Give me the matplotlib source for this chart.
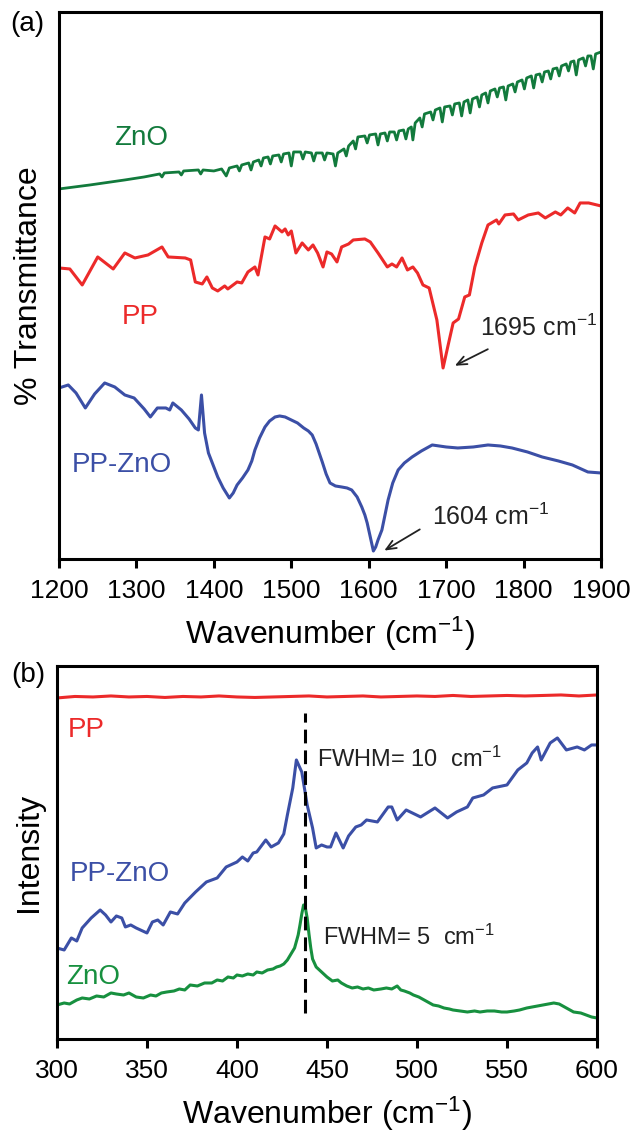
import matplotlib.pyplot as plt

plt.rcParams['font.family'] = ['Liberation Sans', 'DejaVu Sans']
plt.rcParams['mathtext.default'] = 'regular'
plt.rcParams['lines.solid_joinstyle'] = 'round'

# ---- (a) FTIR, wavenumber vs transmittance (arb. units, offset curves)
zno_a_x = [1200,1240,1285,1310,1330,1333,1336,1355,1358,1361,
           1380,1383,1386,1400,1410,1416,1420,1430,1433,1436,
           1445,1448,1451,1458,1461,1464,1470,1473,1476,1484,
           1487,1490,1497,1500,1503,1512,1515,1518,1526,1529,
           1532,1540,1543,1546,1554,1557,1560,1568,1571,1574,
           1580,1583,1586,1595,1598,1601,1609,1612,1615,1621,
           1624,1627,1633,1636,1639,1645,1648,1651,1655,1657,
           1660,1666,1669,1672,1680,1683,1686,1692,1695,1698,
           1705,1708,1711,1717,1720,1723,1728,1731,1734,1740,
           1743,1746,1751,1754,1757,1763,1766,1769,1774,1777,
           1780,1786,1789,1792,1798,1801,1804,1810,1813,1816,
           1821,1824,1827,1832,1835,1838,1843,1846,1849,1855,
           1858,1861,1865,1868,1871,1877,1880,1883,1887,1890,
           1893,1900]
zno_a_y = [370,374,379,382,385,382,386,387,384,388,
           389,385,389,388,390,383,391,393,388,394,
           396,389,397,399,393,401,402,395,403,404,
           397,405,406,393,407,407,400,407,406,398,
           406,406,399,406,405,393,406,410,403,413,
           418,410,422,423,416,424,425,414,425,426,
           418,427,427,419,428,429,420,430,432,419,
           436,441,432,445,447,439,449,451,437,452,
           453,444,455,456,443,457,459,446,460,462,
           452,464,466,456,468,470,462,471,472,459,
           473,475,467,477,479,470,481,483,471,484,
           485,477,487,488,480,490,491,483,493,495,
           488,497,498,484,499,501,493,503,503,490,
           505,507]

pp_a_x = [1200,1214,1230,1250,1270,1285,1298,1315,1333,1341,1363,1370,1376,1385,1391,1398,1405,1414,1418,1430,
          1436,1444,1453,1457,1466,1472,1479,1488,1492,1496,1500,1506,1514,1522,1528,1534,1541,1546,1552,1559,
          1565,1574,1580,1595,1602,1612,1624,1630,1636,1643,1650,1657,1663,1670,1678,1688,1696,1702,1709,1716,
          1724,1730,1737,1746,1754,1765,1768,1776,1787,1793,1806,1819,1828,1841,1848,1857,1866,1873,1884,1900]
pp_a_y = [291,290,274,302,290,306,301,304,312,302,301,299,277,275,282,271,268,273,270,277,
          276,287,292,284,322,320,333,327,330,324,328,306,316,309,314,306,292,307,305,297,
          312,315,319,320,317,306,292,295,292,301,289,292,286,274,271,239,191,212,236,240,
          262,264,292,316,334,339,335,344,345,339,344,346,341,347,344,351,346,356,356,353]

ppzno_a_x = [1200,1212,1222,1234,1246,1259,1272,1285,1297,1310,
             1318,1327,1338,1343,1347,1358,1368,1376,1380,1384,
             1388,1393,1399,1405,1412,1420,1425,1430,1437,1444,
             1449,1453,1459,1466,1472,1479,1485,1492,1500,1508,
             1516,1522,1527,1532,1536,1540,1545,1550,1557,1565,
             1572,1578,1585,1591,1595,1598,1602,1606,1609,1612,
             1617,1621,1625,1631,1638,1646,1656,1668,1682,1700,
             1715,1735,1754,1770,1785,1805,1824,1845,1863,1883,
             1900]
ppzno_a_y = [171,174,166,151,165,176,172,164,161,150,
             142,151,151,149,156,149,140,131,129,164,
             126,106,94,82,71,61,66,74,81,89,
             98,109,121,132,138,142,143,142,139,136,
             131,128,124,115,106,97,85,76,73,72,
             71,69,62,52,44,36,22,8,12,19,
             29,44,59,76,89,96,102,108,114,112,
             111,112,114,113,111,107,102,98,94,87,
             86]

# ---- (b) Raman, wavenumber vs intensity
pp_b_x = [300,310,320,330,340,350,360,370,380,390,400,410,420,430,440,450,
          460,470,480,490,500,510,520,530,540,550,560,570,580,590,600]
pp_b_y = [341,342.5,342,343,342,342.5,341.5,342.5,342,343,342,341.5,342,342.5,343,342,
          342.5,343,342,342.5,343,342.5,343.5,342.5,343,343.5,343,343.5,344,343,344]

ppzno_b_x = [300,304,308,311,314,319,324,327,330,333,336,338,341,344,350,353,356,359,363,367,
             371,377,383,389,394,400,403,406,409,411,416,419,423,426,428,431,433,436,439,442,
             444,447,450,452,455,459,462,466,469,472,478,484,486,489,494,502,510,517,522,528,
             531,537,542,550,556,561,564,567,569,574,578,583,589,593,597,600]
ppzno_b_y = [91,89,101,98,111,121,129,124,117,123,121,112,114,111,106,117,119,114,127,125,
             136,147,157,161,172,177,182,178,186,187,199,192,196,205,224,251,279,267,234,211,
             191,194,192,192,206,191,203,212,214,219,217,232,232,219,229,222,231,221,227,232,
             241,244,251,254,269,276,286,292,279,296,301,289,292,289,294,294]

zno_b_x = [300,304,307,311,314,318,322,326,330,333,
           337,340,344,348,352,355,358,361,365,368,
           371,374,378,382,386,389,392,395,398,400,
           403,406,409,411,414,417,420,422,424,426,
           428,430,432,434,435,436,437,438,439,440,
           441,442,444,447,450,453,456,458,461,464,
           467,470,473,476,480,483,486,489,491,493,
           496,498,501,503,506,509,512,515,518,520,
           524,528,532,535,539,543,547,550,554,557,
           561,564,567,570,573,576,579,581,584,587,
           591,594,597,600]
zno_b_y = [34,36,35,39,41,40,43,42,46,45,
           44,46,42,41,44,43,46,47,48,50,
           49,54,53,56,56,59,58,62,61,64,
           63,65,64,67,66,69,70,72,73,75,
           79,85,91,104,114,125,134,131,121,105,
           91,80,72,67,62,58,59,56,53,51,
           52,50,51,49,50,51,50,53,49,48,
           46,44,42,40,37,34,33,31,30,29,
           28,27,28,27,28,28,27,27,28,29,
           31,32,33,34,35,36,35,33,30,27,
           26,24,22,21]

peak_pos = 438

green_a = '#127a3c'
green_b = '#17903f'
red = '#ec2a2a'
blue = '#3b4fa6'

fig = plt.figure(figsize=(6.33, 11.38), dpi=100)

ax1 = fig.add_axes([0.0932, 0.5088, 0.8563, 0.4807])
ax1.plot(zno_a_x, zno_a_y, color=green_a, lw=2.0)
ax1.plot(pp_a_x, pp_a_y, color=red, lw=2.2)
ax1.plot(ppzno_a_x, ppzno_a_y, color=blue, lw=2.2)
ax1.set_xlim(1200, 1900)
ax1.set_ylim(0, 547)
ax1.set_xticks(range(1200, 1901, 100))
ax1.set_yticks([])
ax1.text(1271, 421, 'ZnO', color=green_a, fontsize=20, va='center')
ax1.text(1281, 242, 'PP', color=red, fontsize=20, va='center')
ax1.text(1217, 94, 'PP-ZnO', color=blue, fontsize=20, va='center')
ax1.text(1744, 231, '1695 cm$^{-1}$', fontsize=18, va='center', color='#222222')
ax1.text(1682, 42, '1604 cm$^{-1}$', fontsize=18, va='center', color='#222222')
ax1.annotate('', xy=(1708, 192), xytext=(1757, 211),
             arrowprops=dict(arrowstyle='->,head_length=0.7,head_width=0.3', lw=1.3, color='#222222'))
ax1.annotate('', xy=(1617, 7), xytext=(1669, 31),
             arrowprops=dict(arrowstyle='->,head_length=0.7,head_width=0.3', lw=1.3, color='#222222'))
ax1.set_xlabel('Wavenumber (cm$^{-1}$)', fontsize=23, labelpad=8)
ax1.set_ylabel('% Transmittance', fontsize=23)
ax1.yaxis.set_label_coords(-0.028, 0.5)

ax2 = fig.add_axes([0.0900, 0.0870, 0.8531, 0.3278])
ax2.plot(pp_b_x, pp_b_y, color=red, lw=2.2)
ax2.plot(ppzno_b_x, ppzno_b_y, color=blue, lw=2.2)
ax2.plot(zno_b_x, zno_b_y, color=green_b, lw=2.2)
ax2.axvline(peak_pos, ymin=26 / 373, ymax=326 / 373, color='k', lw=2.2, ls=(0, (4.5, 2.3)))
ax2.set_xlim(300, 600)
ax2.set_ylim(0, 373)
ax2.set_xticks(range(300, 601, 50))
ax2.set_yticks([])
ax2.text(306, 309, 'PP', color=red, fontsize=20, va='center')
ax2.text(307, 165, 'PP-ZnO', color=blue, fontsize=20, va='center')
ax2.text(305, 62, 'ZnO', color=green_b, fontsize=20, va='center')
ax2.text(444.4, 280, 'FWHM= 10  cm$^{-1}$', fontsize=17, va='center', color='#222222')
ax2.text(447.8, 102, 'FWHM= 5  cm$^{-1}$', fontsize=17, va='center', color='#222222')
ax2.set_xlabel('Wavenumber (cm$^{-1}$)', fontsize=23, labelpad=8)
ax2.set_ylabel('Intensity', fontsize=23)
ax2.yaxis.set_label_coords(-0.024, 0.5)

for ax in (ax1, ax2):
    ax.tick_params(axis='x', direction='out', length=6.5, width=2.2, labelsize=19, pad=8, top=False)
    for s in ax.spines.values():
        s.set_linewidth(2.2)

fig.text(0.043, 0.979, '(a)', fontsize=20, ha='center', va='center')
fig.text(0.044, 0.407, '(b)', fontsize=20, ha='center', va='center')

fig.savefig('out.png', dpi=100)
